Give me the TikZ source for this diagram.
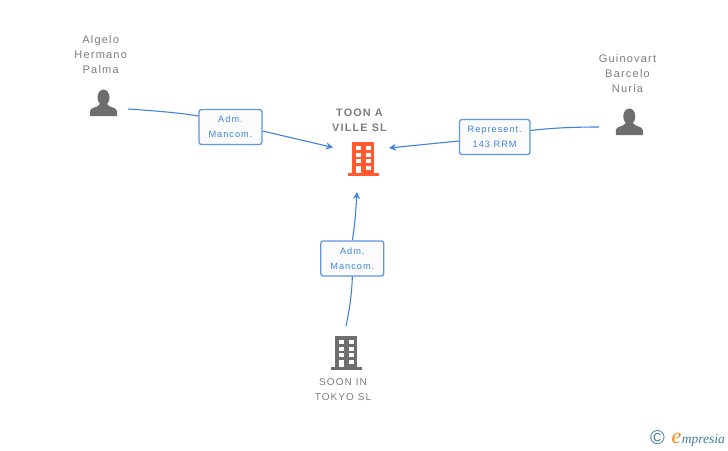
\documentclass[tikz,border=0pt]{standalone}
\usepackage{fontspec}
\setmainfont{Liberation Sans}
\newfontfamily\namefont[LetterSpace=11]{Liberation Sans}
\newfontfamily\logofont{Liberation Serif}
\usetikzlibrary{arrows.meta}
\definecolor{linkblue}{HTML}{3F83E0}
\definecolor{iconred}{HTML}{FF5A30}
\definecolor{icongray}{HTML}{6E6E6E}
\definecolor{namegray}{HTML}{7D7D7D}
\definecolor{logoblue}{HTML}{3F7F9A}
\definecolor{logoorange}{HTML}{F08A1E}
\tikzset{
  x=1pt,y=-1pt,
  nametext/.style={text=namegray,align=center,inner sep=0pt,font=\namefont\fontsize{11}{15}\selectfont},
  rolebox/.style={draw=linkblue!85!white,line width=1.3pt,rounded corners=2.5pt,fill=white!97!gray,text=linkblue,
    align=center,inner sep=0pt,font=\namefont\fontsize{9.2}{15}\selectfont},
  linkline/.style={draw=linkblue,line width=1.1pt},
  linktip/.style={-{Stealth[length=7pt,width=7pt]}},
  person/.pic={
    \fill[icongray] (0,0.5) ellipse (6 and 8);
    \fill[icongray] (-13.5,19) -- (-13.5,14) .. controls (-13,10) and (-6,11) .. (-3.5,7)
      -- (3.5,7) .. controls (6,11) and (13,10) .. (13.5,14) -- (13.5,19) -- cycle;
  },
  building/.pic={
    \fill (0,0) rectangle (22,32);
    \fill (-4.5,31) rectangle (27,34);
    \foreach \y in {4,10.5,17}{
      \fill[white] (3.7,\y) rectangle +(5,4.4);
      \fill[white] (13.7,\y) rectangle +(5,4.4);
    }
    \fill[white] (3.7,23.7) rectangle (8.7,31);
    \fill[white] (13.7,23.7) rectangle (18.7,28);
  },
}
\begin{document}
\begin{tikzpicture}
\useasboundingbox[fill=white] (0,0) rectangle (728,450);

\pic at (103.5,97) {person};
\pic at (629.3,116) {person};
\pic[iconred] at (352,142) {building};
\pic[icongray] at (335,336) {building};

\node[nametext] (algelo) at (100.7,55) {Algelo\\Hermano\\Palma};
\node[nametext] (guinovart) at (627.5,74) {Guinovart\\Barcelo\\Nuria};
\node[nametext,font=\namefont\bfseries\fontsize{10.8}{15}\selectfont] (toon) at (359.5,120) {TOON A\\VILLE SL};
\node[nametext,font=\namefont\fontsize{10}{15}\selectfont] (soon) at (343,390) {SOON IN\\TOKYO SL};

\node[rolebox,minimum width=63pt,minimum height=35pt] (admleft) at (230.5,127) {Adm.\\Mancom.};
\node[rolebox,minimum width=70.5pt,minimum height=35pt] (represent) at (494.7,137) {Represent.\\143 RRM};
\node[rolebox,minimum width=63pt,minimum height=35pt] (admbottom) at (352.3,258.5) {Adm.\\Mancom.};

\coordinate (algeloout) at (128,109);
\coordinate (guinovartout) at (599,127);
\coordinate (soonout) at (346,326);
\coordinate (toonleft) at (333,147.5);
\coordinate (toonright) at (389,148);
\coordinate (toonbottom) at (357,192);

\draw[linkline] (algeloout) .. controls (150,110.5) and (178,112.5) .. (admleft.west |- 0,116);
\draw[linkline,linktip] (admleft.east |- 0,131) -- (toonleft);
\draw[linkline] (guinovartout) .. controls (575,127) and (550,128) .. (represent.east |- 0,130.5);
\draw[linkline,linktip] (represent.west |- 0,141) -- (toonright);
\draw[linkline] (soonout) .. controls (349,312) and (352,294) .. (admbottom.south);
\draw[linkline,linktip] (admbottom.north) .. controls (355,225) and (356,208) .. (toonbottom);

\node[inner sep=0pt,text=logoblue,font=\fontsize{20}{20}\selectfont] (copyright) at (657.5,438) {\textcopyright};
\node[inner sep=0pt,anchor=base west,font=\logofont\itshape\fontsize{22}{22}\selectfont,text=logoorange] (logoe) at (671.5,443) {e};
\node[inner sep=0pt,anchor=base west,font=\logofont\itshape\fontsize{13.5}{13.5}\selectfont,text=logoblue] (logotext) at (logoe.base east) {mpresia};
\end{tikzpicture}
\end{document}
